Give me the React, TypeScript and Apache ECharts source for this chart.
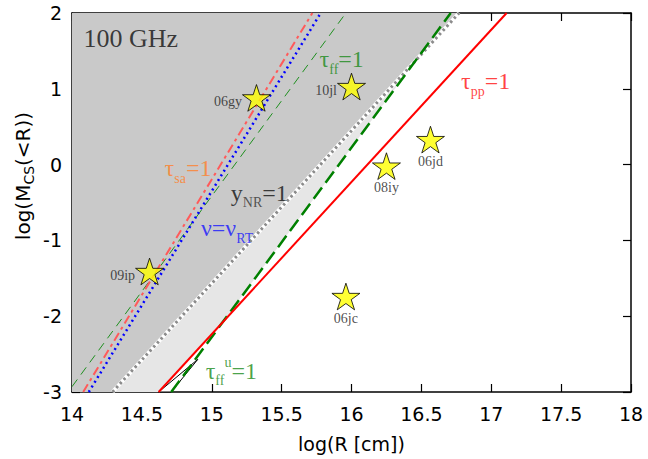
import React, { useEffect, useRef } from "react";
import * as echarts from "echarts";

// axis ranges / ticks
const xMin = 14, xMax = 18, xStep = 0.5;
const yMin = -3, yMax = 2, yStep = 1;

// lines given by two end points [logR, logM]
const tauPP = [[14.62, -3], [17.11, 2]];
const tauFFu = [[14.71, -3], [16.71, 2]];
const yNR = [[14.29, -3], [16.77, 2]];
const tauFF = [[14.0, -2.93], [15.96, 2]];
const tauSA = [[14.08, -3], [15.72, 2]];
const nuRT = [[14.12, -3], [15.78, 2]];

// small unshaded triangle near the bottom
const triangle = [[14.62, -3], [14.71, -3], [14.9, -2.57]];

// supernovae
const snNames = ["06gy", "10jl", "09ip", "08iy", "06jd", "06jc"];
const snLogR = [15.32, 16.0, 14.555, 16.25, 16.565, 15.96];
const snLogM = [0.88, 1.03, -1.41, -0.02, 0.33, -1.74];
const snLabelPos = ["left", "left", "left", "bottom", "bottom", "bottom"];

// annotations
const annText = [
  "{t|100 GHz}",
  "{g|τ}{gs|ff}{g|=1}",
  "{r|τ}{rs|pp}{r|=1}",
  "{o|τ}{os|sa}{o|=1}",
  "{k|y}{ks|NR}{k|=1}",
  "{b|ν=ν}{bs|RT}",
  "{g|τ}{gs|ff}{gu|u}{g|=1}",
];
const annX = [14.42, 15.93, 16.96, 14.83, 15.34, 15.11, 15.14];
const annY = [1.67, 1.39, 1.1, -0.05, -0.37, -0.84, -2.72];

function intersect(a: number[][], b: number[][]) {
  const sa = (a[1][1] - a[0][1]) / (a[1][0] - a[0][0]);
  const sb = (b[1][1] - b[0][1]) / (b[1][0] - b[0][0]);
  const x = (b[0][1] - a[0][1] + sa * a[0][0] - sb * b[0][0]) / (sa - sb);
  return [x, a[0][1] + sa * (x - a[0][0])];
}

const starPath =
  "path://M50,2 L61.2,36.6 L97.6,36.6 L68.2,58 L79.4,92.6 L50,71.2 L20.6,92.6 L31.8,58 L2.4,36.6 L38.8,36.6 Z";

export default function App() {
  const ref = useRef<HTMLDivElement>(null);
  useEffect(() => {
    document.body.style.margin = "0";
    const chart = echarts.init(ref.current!, null, { renderer: "svg" });

    const darkPoly = [[xMin, yMin], yNR[0], yNR[1], [xMin, yMax]];
    const pRedGreen = intersect(tauPP, tauFFu);
    const pGreenDot = intersect(tauFFu, yNR);
    const lightPoly = [yNR[0], tauPP[0], pRedGreen, pGreenDot];

    const polySeries = (pts: number[][], fill: string, stroke: string | null, z: number) => ({
      type: "custom",
      z,
      silent: true,
      data: [[pts[0][0], pts[0][1]]],
      renderItem: (_p: any, api: any) => ({
        type: "polygon",
        shape: { points: pts.map((p) => api.coord(p)) },
        style: { fill, stroke: stroke || "none", lineWidth: 1 },
      }),
    });

    const lineSeries = (pts: number[][], color: string, width: number, type: any, z: number) => ({
      type: "line",
      z,
      data: pts,
      symbol: "none",
      silent: true,
      lineStyle: { color, width, type },
    });

    const serif = "Liberation Serif";
    const big = 24;
    const sub = 14;
    const rich: any = {
      t: { fontFamily: serif, fontSize: 26, color: "#111" },
      g: { fontFamily: serif, fontSize: big, color: "#1a8a1a" },
      gs: { fontFamily: serif, fontSize: sub, color: "#1a8a1a", padding: [20, 0, 0, 0] },
      gu: { fontFamily: serif, fontSize: sub, color: "#1a8a1a", padding: [0, 0, 16, 0] },
      r: { fontFamily: serif, fontSize: big, color: "#ff1010" },
      rs: { fontFamily: serif, fontSize: sub, color: "#ff1010", padding: [20, 0, 0, 0] },
      o: { fontFamily: serif, fontSize: big, color: "#ff7f2a" },
      os: { fontFamily: serif, fontSize: sub, color: "#ff7f2a", padding: [20, 0, 0, 0] },
      k: { fontFamily: serif, fontSize: big, color: "#111" },
      ks: { fontFamily: serif, fontSize: sub, color: "#333", padding: [20, 0, 0, 0] },
      b: { fontFamily: serif, fontSize: big, color: "#1515ff" },
      bs: { fontFamily: serif, fontSize: sub, color: "#1515ff", padding: [20, 0, 0, 0] },
    };

    const axisCommon = {
      type: "value",
      axisLine: { show: true, onZero: false, lineStyle: { color: "#000", width: 1.5 } },
      axisTick: { show: true, inside: true, length: 8, lineStyle: { color: "#000", width: 1.2 } },
      splitLine: { show: false },
    };
    const labelStyle = { color: "#000", fontFamily: "DejaVu Sans", fontSize: 19 };

    chart.setOption({
      animation: false,
      grid: { left: 72, right: 17, top: 13, bottom: 67, containLabel: false },
      graphic: [
        {
          type: "text",
          x: 23,
          y: 176,
          rotation: Math.PI / 2,
          style: {
            text: "{n|log(M}{ns|CS}{n|(<R))}",
            align: "center",
            verticalAlign: "middle",
            rich: {
              n: { fontFamily: "DejaVu Sans", fontSize: 20, fill: "#000" },
              ns: { fontFamily: "DejaVu Sans", fontSize: 14, fill: "#000", padding: [11, 0, 0, 0] },
            },
          },
        },
      ],
      xAxis: [
        {
          ...axisCommon,
          min: xMin, max: xMax, interval: xStep, position: "bottom",
          axisLabel: { ...labelStyle, margin: 12 },
          name: "log(R [cm])",
          nameLocation: "middle",
          nameGap: 42,
          nameTextStyle: { color: "#000", fontFamily: "DejaVu Sans", fontSize: 19 },
        },
        {
          ...axisCommon,
          min: xMin, max: xMax, interval: xStep, position: "top",
          axisLabel: { show: false },
        },
      ],
      yAxis: [
        {
          ...axisCommon,
          min: yMin, max: yMax, interval: yStep, position: "left",
          axisLabel: { ...labelStyle, margin: 10 },
        },
        {
          ...axisCommon,
          min: yMin, max: yMax, interval: yStep, position: "right",
          axisLabel: { show: false },
        },
      ],
      series: [
        polySeries(darkPoly, "#c9c9c9", null, 1),
        polySeries(lightPoly, "#e6e6e6", null, 1),
        polySeries(triangle, "#ffffff", "#000000", 2),
        lineSeries(tauFF, "#1f8f1f", 1, [9, 6], 3),
        lineSeries(yNR, "#ffffff", 4, "solid", 3),
        lineSeries(yNR, "#8c8c8c", 3, [2.5, 3], 4),
        lineSeries(tauSA, "#ff5a5a", 2, [9, 4, 3, 4], 4),
        lineSeries(nuRT, "#0000ff", 2.5, [2, 3.5], 4),
        lineSeries(tauFFu, "#008000", 2.5, [14, 6], 5),
        lineSeries(tauPP, "#ff0000", 2, "solid", 5),
        {
          type: "scatter",
          z: 8,
          symbol: starPath,
          symbolKeepAspect: true,
          symbolSize: 28,
          itemStyle: { color: "#ffff00", borderColor: "#000", borderWidth: 1 },
          data: snNames.map((n, i) => ({
            value: [snLogR[i], snLogM[i]],
            name: n,
            label: {
              position: snLabelPos[i],
              distance: snLabelPos[i] === "left" ? 0 : 1,
              offset: snLabelPos[i] === "left" ? [0, 4] : [0, 0],
            },
          })),
          label: {
            show: true,
            formatter: (p: any) => p.name,
            fontFamily: serif,
            fontSize: 14,
            color: "#222",
          },
        },
        {
          type: "scatter",
          z: 9,
          symbolSize: 1,
          itemStyle: { color: "transparent" },
          silent: true,
          data: annText.map((t, i) => ({ value: [annX[i], annY[i]], name: t })),
          label: {
            show: true,
            position: "inside",
            formatter: (p: any) => p.name,
            rich,
          },
        },
      ],
    });
    return () => chart.dispose();
  }, []);
  return (
    <div
      ref={ref}
      style={{ position: "fixed", left: 0, top: 0, width: 648, height: 459, background: "#fff" }}
    />
  );
}
